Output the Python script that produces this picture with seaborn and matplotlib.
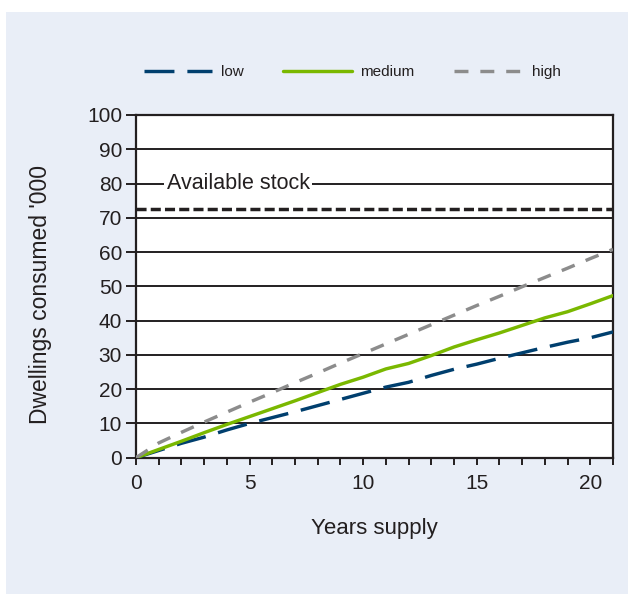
import matplotlib
matplotlib.use("Agg")
import matplotlib.pyplot as plt
import seaborn as sns
import pandas as pd
from matplotlib.patches import Rectangle

years = list(range(22))
low = [0, 2.1, 4.2, 6.0, 8.1, 10.0, 11.7, 13.4, 15.2, 17.0, 18.8, 20.6, 22.0, 24.0, 25.8, 27.3, 29.0, 30.6, 32.2, 33.7, 35.0, 36.7]
medium = [0, 2.4, 4.8, 7.3, 9.7, 12.0, 14.3, 16.6, 19.0, 21.4, 23.5, 25.9, 27.5, 29.8, 32.3, 34.4, 36.4, 38.6, 40.8, 42.6, 44.9, 47.3]
high = [0, 4.3, 7.4, 10.4, 13.3, 16.2, 19.0, 21.9, 24.7, 27.6, 30.4, 33.2, 36.0, 38.8, 41.6, 44.4, 47.1, 49.9, 52.6, 55.3, 58.1, 60.8]
available_stock = 72.7
series_names = ["low", "medium", "high"]
stock_label = "Available stock"
x_label = "Years supply"
y_label = "Dwellings consumed '000"

df = pd.DataFrame({
    "year": years * 3,
    "value": low + medium + high,
    "scenario": ["low"] * 22 + ["medium"] * 22 + ["high"] * 22,
})

sns.set_theme(style="white")
plt.rcParams["font.family"] = ["Liberation Sans", "DejaVu Sans"]

fig = plt.figure(figsize=(6.3, 5.94), dpi=100)
fig.patch.set_facecolor("white")
fig.patches.append(Rectangle((6 / 630, 0), (628 - 6) / 630, (594 - 12) / 594,
                             transform=fig.transFigure, facecolor="#e9eef7",
                             edgecolor="none", zorder=-10))
ax = fig.add_axes([136 / 630, (594 - 457.7) / 594, (613 - 136) / 630, (457.7 - 115) / 594])
ax.set_zorder(5)
ax.set_facecolor("white")

palette = {"low": "#003f6e", "medium": "#7ab800", "high": "#8c8c8c"}
dashes = {"low": (8.8, 3.8), "medium": "", "high": (4.1, 3.5)}
sns.lineplot(data=df, x="year", y="value", hue="scenario", style="scenario",
             palette=palette, dashes=dashes, hue_order=series_names,
             style_order=series_names, linewidth=2.45, ax=ax, zorder=3)

ax.axhline(available_stock, color="#231f20", linewidth=2.5, linestyle=(0, (2.9, 1.2)), zorder=2.5)

ax.set_xlim(0, 21)
ax.set_ylim(0, 100)
ax.set_yticks(range(0, 101, 10))
ax.set_xticks(range(0, 21, 5))
ax.set_xticks(range(0, 22), minor=True)
ax.yaxis.grid(True, color="#231f20", linewidth=1.4, zorder=1)
ax.set_axisbelow(True)
for s in ax.spines.values():
    s.set_color("#231f20")
    s.set_linewidth(1.6)
    s.set_visible(True)
ax.tick_params(axis="both", which="both", direction="out", color="#231f20",
               width=1.4, labelsize=15, labelcolor="#231f20")
ax.tick_params(axis="y", length=7, pad=3)
ax.tick_params(axis="x", which="major", length=5, pad=7)
ax.tick_params(axis="x", which="minor", length=5)
ax.tick_params(bottom=True, left=True, which="both")

ax.text(1.35, 80, stock_label, fontsize=15.5, color="#231f20", va="center", ha="left",
        bbox=dict(facecolor="white", edgecolor="none", pad=2), zorder=2.2)

ax.set_xlabel(x_label, fontsize=16, color="#231f20", labelpad=18)
ax.set_ylabel(y_label, fontsize=16.5, color="#231f20")
ax.yaxis.set_label_coords(-0.177, 0.475)

leg = ax.legend(loc="center", bbox_to_anchor=(0.453, 1.125), ncol=3, frameon=False,
                fontsize=11, handlelength=4.5, columnspacing=2.6, handletextpad=0.55)
for t in leg.get_texts():
    t.set_color("#231f20")

fig.savefig("out.png", dpi=100)
